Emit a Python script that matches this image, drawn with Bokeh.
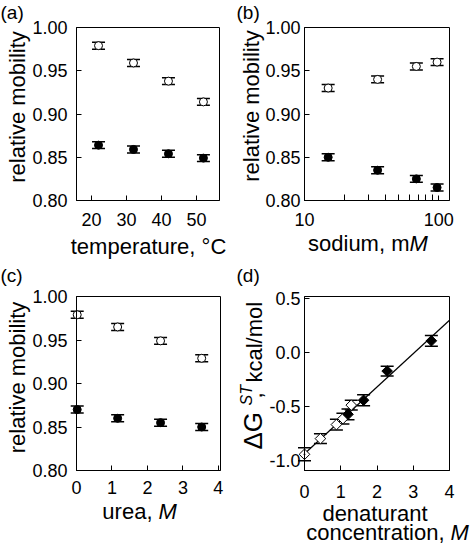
import math
from bokeh.plotting import figure
from bokeh.models import (ColumnDataSource, Whisker, TeeHead, FixedTicker,
                          PrintfTickFormatter, Label, Range1d, BoxAnnotation)
from bokeh.layouts import column, row
from bokeh.embed import file_html
from bokeh.resources import INLINE

# ---------------- data ----------------
# (a) temperature
temp_c = [22, 32, 42, 52]
temp_open = [0.979, 0.959, 0.938, 0.914]
temp_filled = [0.864, 0.859, 0.854, 0.849]
temp_err = [0.004, 0.004, 0.004, 0.004]
temp_ticks = [20, 30, 40, 50]

# (b) sodium
sodium_mm = [15, 35, 68, 97]
sodium_open = [0.930, 0.940, 0.955, 0.960]
sodium_filled = [0.850, 0.835, 0.825, 0.815]
sodium_err = [0.004, 0.004, 0.004, 0.004]
sodium_ticks = [10, 100]
sodium_minor = [20, 30, 40, 50, 60, 70, 80, 90]

# (c) urea
urea_m = [0.02, 1.16, 2.37, 3.53]
urea_open = [0.979, 0.965, 0.949, 0.929]
urea_filled = [0.870, 0.860, 0.855, 0.850]
urea_err = [0.004, 0.004, 0.004, 0.004]
urea_ticks = [0, 1, 2, 3, 4]

mobility_ticks = [0.80, 0.85, 0.90, 0.95, 1.00]

# (d) free energy vs denaturant
d_open_x = [0.0, 0.44, 0.88, 1.06, 1.29]
d_open_y = [-0.94, -0.795, -0.665, -0.61, -0.485]
d_open_err = [0.06, 0.045, 0.05, 0.05, 0.045]
d_filled_x = [1.2, 1.63, 2.28, 3.5]
d_filled_y = [-0.57, -0.44, -0.17, 0.11]
d_filled_err = [0.05, 0.05, 0.045, 0.05]
fit_x = [0.0, 4.0]
fit_y = [-0.935, 0.30]
d_xticks = [0, 1, 2, 3, 4]
d_yticks = [-1.0, -0.5, 0.0, 0.5]

FONT = "Liberation Sans"


def box_fig(W, H, bl, br, bt, bb, x0, x1, y0, y1, xlog=False):
    """Figure whose frame fills the canvas; the visible plot box sits at
    pixel bl..br / bt..bb and spans data x0..x1 / y0..y1."""
    if xlog:
        lx0, lx1 = math.log10(x0), math.log10(x1)
        s = (lx1 - lx0) / (br - bl)
        xs, xe = 10 ** (lx0 - bl * s), 10 ** (lx1 + (W - br) * s)
    else:
        s = (x1 - x0) / (br - bl)
        xs, xe = x0 - bl * s, x1 + (W - br) * s
    t = (y1 - y0) / (bb - bt)
    ys, ye = y0 - (H - bb) * t, y1 + bt * t
    p = figure(width=W, height=H, x_range=Range1d(xs, xe), y_range=Range1d(ys, ye),
               x_axis_type="log" if xlog else "linear",
               output_backend="svg", toolbar_location=None, min_border=0)
    p.title.visible = False
    p.grid.visible = False
    p.outline_line_color = None
    p.background_fill_color = "white"
    p.border_fill_color = "white"
    p.add_layout(BoxAnnotation(left=x0, right=x1, bottom=y0, top=y1,
                               fill_color=None, fill_alpha=0,
                               line_color="black", line_width=1, line_alpha=1))
    xa, ya = p.xaxis[0], p.yaxis[0]
    xa.fixed_location = y0
    xa.bounds = (x0, x1)
    ya.fixed_location = x0
    ya.bounds = (y0, y1)
    for ax in (xa, ya):
        ax.axis_line_color = "black"
        ax.major_tick_line_color = "black"
        ax.minor_tick_line_color = "black"
        ax.major_tick_in = 5
        ax.major_tick_out = 0
        ax.minor_tick_in = 0
        ax.minor_tick_out = 0
        ax.major_label_text_font = FONT
        ax.major_label_text_font_size = "18px"
        ax.major_label_text_color = "black"
    return p


def errbars(p, x, y, err, cap=13):
    src = ColumnDataSource(dict(base=x,
                                upper=[a + e for a, e in zip(y, err)],
                                lower=[a - e for a, e in zip(y, err)]))
    w = Whisker(source=src, base="base", upper="upper", lower="lower",
                dimension="height", line_color="black", line_width=1,
                upper_head=TeeHead(size=cap, line_width=1.5, line_color="black"),
                lower_head=TeeHead(size=cap, line_width=1.5, line_color="black"),
                level="underlay")
    p.add_layout(w)


def lab(p, text, ax, ay, dx, dy, size="22px", style="normal", align="left", angle=0.0):
    # anchor = centre line of the text box (text_baseline="middle")
    p.add_layout(Label(x=ax, y=ay, x_offset=dx, y_offset=dy, text=text,
                       text_font=FONT, text_font_size=size, text_font_style=style,
                       text_align=align, text_baseline="middle",
                       angle=angle, text_color="black"))


def circles(p, x, y_open, y_filled, err):
    errbars(p, x, y_open, err)
    errbars(p, x, y_filled, err)
    p.scatter(x, y_open, marker="circle", size=8, fill_color="white",
              line_color="black", line_width=1)
    p.scatter(x, y_filled, marker="circle", size=8, fill_color="black",
              line_color="black", line_width=1)


ROT = math.pi / 2

# ---------------- (a) ----------------
x0, x1, y0, y1 = 15.7, 56.6, 0.80, 1.00
pa = box_fig(236, 264, 76, 219, 27, 200, x0, x1, y0, y1)
pa.xaxis.ticker = FixedTicker(ticks=temp_ticks)
pa.xaxis.formatter = PrintfTickFormatter(format="%d")
pa.yaxis.ticker = FixedTicker(ticks=mobility_ticks)
pa.yaxis.formatter = PrintfTickFormatter(format="%.2f")
pa.xaxis.major_label_standoff = 12
pa.yaxis.major_label_standoff = 9
circles(pa, temp_c, temp_open, temp_filled, temp_err)
lab(pa, "relative mobility", x0, y0, -59, 93.5, align="center", angle=ROT)
lab(pa, "temperature, °C", x0, y0, 72, -45.8, align="center")
lab(pa, "(a)", x0, y1, -76, 15, size="19px")

# ---------------- (b) ----------------
x0, x1 = 10, 120
pb = box_fig(236, 264, 68, 213, 27, 200, x0, x1, y0, y1, xlog=True)
pb.xaxis.ticker = FixedTicker(ticks=sodium_ticks, minor_ticks=sodium_minor)
pb.xaxis.formatter = PrintfTickFormatter(format="%d")
pb.xaxis.minor_tick_in = 6
pb.yaxis.ticker = FixedTicker(ticks=mobility_ticks)
pb.yaxis.formatter = PrintfTickFormatter(format="%.2f")
pb.xaxis.major_label_standoff = 12
pb.yaxis.major_label_standoff = 4
circles(pb, sodium_mm, sodium_open, sodium_filled, sodium_err)
lab(pb, "relative mobility", x0, y0, -52.8, 94.5, align="center", angle=ROT)
lab(pb, "sodium, m", x0, y0, 105, -43, align="right")
lab(pb, "M", x0, y0, 105, -43, style="italic", align="left")
lab(pb, "(b)", x0, y1, -68, 15, size="19px")

# ---------------- (c) ----------------
x0, x1 = 0, 4.06
pc = box_fig(236, 280, 76, 220, 32, 206, x0, x1, y0, y1)
pc.xaxis.ticker = FixedTicker(ticks=urea_ticks)
pc.xaxis.formatter = PrintfTickFormatter(format="%d")
pc.yaxis.ticker = FixedTicker(ticks=mobility_ticks)
pc.yaxis.formatter = PrintfTickFormatter(format="%.2f")
pc.xaxis.major_label_standoff = 10
pc.yaxis.major_label_standoff = 9
circles(pc, urea_m, urea_open, urea_filled, urea_err)
lab(pc, "relative mobility", x0, y0, -59, 93, align="center", angle=ROT)
lab(pc, "urea,", x0, y0, 76, -41.2, align="right")
lab(pc, "M", x0, y0, 82, -41.2, style="italic", align="left")
lab(pc, "(c)", x0, y1, -76, 21, size="19px")

# ---------------- (d) ----------------
x0, x1, y0, y1 = 0, 4, -1.09, 0.52
pd = box_fig(236, 280, 68, 213, 32, 206, x0, x1, y0, y1)
pd.xaxis.ticker = FixedTicker(ticks=d_xticks)
pd.xaxis.formatter = PrintfTickFormatter(format="%d")
pd.yaxis.ticker = FixedTicker(ticks=d_yticks)
pd.yaxis.formatter = PrintfTickFormatter(format="%.1f")
pd.xaxis.major_label_standoff = 14
pd.yaxis.major_label_standoff = 4
pd.line(fit_x, fit_y, line_color="black", line_width=1.2)
errbars(pd, d_open_x, d_open_y, d_open_err, cap=13)
errbars(pd, d_filled_x, d_filled_y, d_filled_err, cap=13)
pd.scatter(d_open_x[1:], d_open_y[1:], marker="square", angle=math.pi / 4, size=7.5,
           fill_color="white", line_color="black", line_width=1)
pd.scatter(d_open_x[:1], d_open_y[:1], marker="square_dot", angle=math.pi / 4, size=7.5,
           fill_color="white", line_color="black", line_width=1)
pd.scatter(d_filled_x, d_filled_y, marker="square", angle=math.pi / 4, size=7.5,
           fill_color="black", line_color="black", line_width=1)
lab(pd, "ΔG", x0, y0, -52, 21, size="26px", angle=ROT)
lab(pd, "ST", x0, y0, -58.5, 65, size="16px", style="italic", angle=ROT)
lab(pd, ",", x0, y0, -50.5, 72, angle=ROT)
lab(pd, "kcal/mol", x0, y0, -50.5, 88, angle=ROT)
lab(pd, "denaturant", x0, y0, 70.5, -42.5, align="center")
lab(pd, "concentration,", x0, y0, 140, -61.5, align="right")
lab(pd, "M", x0, y0, 146, -61.5, style="italic", align="left")
lab(pd, "(d)", x0, y1, -68, 21, size="19px")

layout = column(row(pa, pb), row(pc, pd))
open("out.html", "w").write(file_html(layout, INLINE))
